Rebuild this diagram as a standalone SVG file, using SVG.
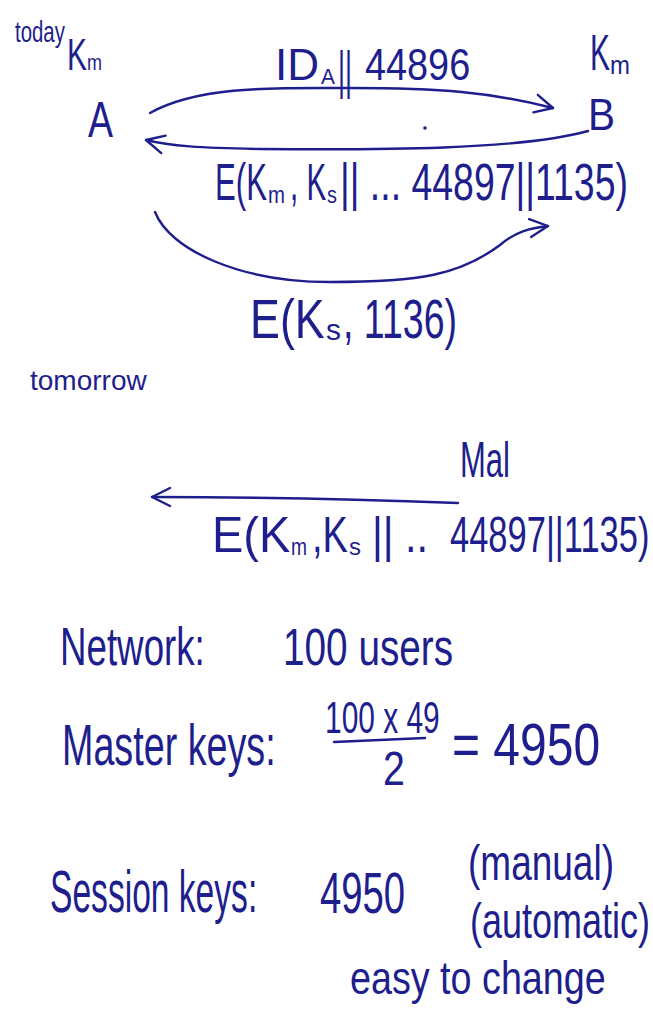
<svg xmlns="http://www.w3.org/2000/svg" width="653" height="1010" viewBox="0 0 653 1010">
  <style>
    .ink { font-family: "Liberation Sans", Arial, sans-serif; fill: #1e1e8c; }
    .stroke { fill: none; stroke: #1e1e8c; stroke-width: 2.4; stroke-linecap: round; stroke-linejoin: round; }
  </style>
  <defs>
    <marker id="head" viewBox="0 0 12 12" refX="11" refY="6" markerWidth="9" markerHeight="9" markerUnits="strokeWidth" orient="auto">
      <path d="M1,1 L11,6 L1,11" fill="none" stroke="#1e1e8c" stroke-width="1.3" stroke-linecap="round" stroke-linejoin="round"/>
    </marker>
  </defs>
  <rect width="653" height="1010" fill="#ffffff"/>

  <!-- heading for the first scenario -->
  <g id="label-today">
    <text class="ink" font-size="30" transform="translate(15 42) scale(0.68 1)">today</text>
  </g>

  <!-- party A with its master key -->
  <g id="node-A">
    <text class="ink" font-size="44" transform="translate(67 70) scale(0.68 1)">K</text>
    <text class="ink" font-size="22" transform="translate(87 70) scale(0.82 1)">m</text>
    <text class="ink" font-size="50" transform="translate(88 137) scale(0.75 1)">A</text>
  </g>

  <!-- party B with its master key -->
  <g id="node-B">
    <text class="ink" font-size="50" transform="translate(590 70) scale(0.6 1)">K</text>
    <text class="ink" font-size="26" transform="translate(610 74) scale(0.92 1)">m</text>
    <text class="ink" font-size="44" transform="translate(588 130) scale(0.92 1)">B</text>
  </g>

  <!-- message exchange -->
  <g id="connectors">
    <path class="stroke" d="M150,113 C200,85 280,88 350,88 C440,88 490,92 553,108" marker-end="url(#head)"/>
    <path class="stroke" d="M588,131 C520,150 380,150 260,149 C200,148 170,146 146,140" marker-end="url(#head)"/>
    <path class="stroke" d="M155,212 C170,250 240,282 330,282 C420,282 460,275 500,245 C515,232 530,228 548,226" marker-end="url(#head)"/>
    <path class="stroke" d="M458,503 C380,500 280,497 152,497" marker-end="url(#head)"/>
  </g>

  <g id="msg-1">
    <text class="ink" font-size="44" transform="translate(275 80)">ID</text>
    <text class="ink" font-size="22" transform="translate(321 84) scale(0.95 1)">A</text>
    <text class="ink" font-size="52" transform="translate(338 88) scale(0.52 1)">||</text>
    <text class="ink" font-size="44" transform="translate(365 80) scale(0.86 1)">44896</text>
  </g>
  <circle cx="425" cy="128" r="1.8" fill="#1e1e8c"/>

  <g id="msg-2">
    <text class="ink" font-size="52" transform="translate(215 200) scale(0.6 1)">E(K</text>
    <text class="ink" font-size="24" transform="translate(268 203) scale(0.85 1)">m</text>
    <text class="ink" font-size="52" transform="translate(290 200) scale(0.57 1)">, K</text>
    <text class="ink" font-size="24" transform="translate(327 203) scale(0.83 1)">s</text>
    <text class="ink" font-size="52" transform="translate(340 200) scale(0.72 1)">|| ... 44897||1135)</text>
  </g>

  <g id="msg-3">
    <text class="ink" font-size="56" transform="translate(250 338) scale(0.8 1)">E(K</text>
    <text class="ink" font-size="30" transform="translate(326 340)">s</text>
    <text class="ink" font-size="56" transform="translate(343 338) scale(0.67 1)">, 1136)</text>
  </g>

  <!-- second scenario: replay by an attacker -->
  <g id="label-tomorrow">
    <text class="ink" font-size="28" transform="translate(30 390)">tomorrow</text>
  </g>
  <g id="node-Mal">
    <text class="ink" font-size="50" transform="translate(460 477) scale(0.62 1)">Mal</text>
  </g>
  <g id="msg-replay">
    <text class="ink" font-size="50" transform="translate(212 552) scale(0.94 1)">E(K</text>
    <text class="ink" font-size="24" transform="translate(291 555) scale(0.8 1)">m</text>
    <text class="ink" font-size="50" transform="translate(312 552) scale(0.76 1)">,K</text>
    <text class="ink" font-size="24" transform="translate(349 555)">s</text>
    <text class="ink" font-size="50" transform="translate(372 552) scale(0.83 1)">|| ..</text>
    <text class="ink" font-size="50" transform="translate(450 552) scale(0.69 1)">44897||1135)</text>
  </g>

  <!-- key counting notes -->
  <g id="notes">
    <text class="ink" font-size="54" transform="translate(60 665) scale(0.68 1)">Network:</text>
    <text class="ink" font-size="52" transform="translate(283 665) scale(0.745 1)">100 users</text>

    <text class="ink" font-size="58" transform="translate(62 765) scale(0.65 1)">Master keys:</text>
    <text class="ink" font-size="44" transform="translate(325 733) scale(0.68 1)">100 x 49</text>
    <path class="stroke" d="M334,742 L425,738"/>
    <text class="ink" font-size="48" transform="translate(383 785) scale(0.82 1)">2</text>
    <text class="ink" font-size="60" transform="translate(452 765) scale(0.8 1)">= 4950</text>
    <text class="ink" font-size="50" transform="translate(468 880) scale(0.74 1)">(manual)</text>

    <text class="ink" font-size="60" transform="translate(50 912) scale(0.56 1)">Session keys:</text>
    <text class="ink" font-size="58" transform="translate(320 913) scale(0.66 1)">4950</text>
    <text class="ink" font-size="50" transform="translate(470 938) scale(0.72 1)">(automatic)</text>

    <text class="ink" font-size="46" transform="translate(350 994) scale(0.82 1)">easy to change</text>
  </g>
</svg>
